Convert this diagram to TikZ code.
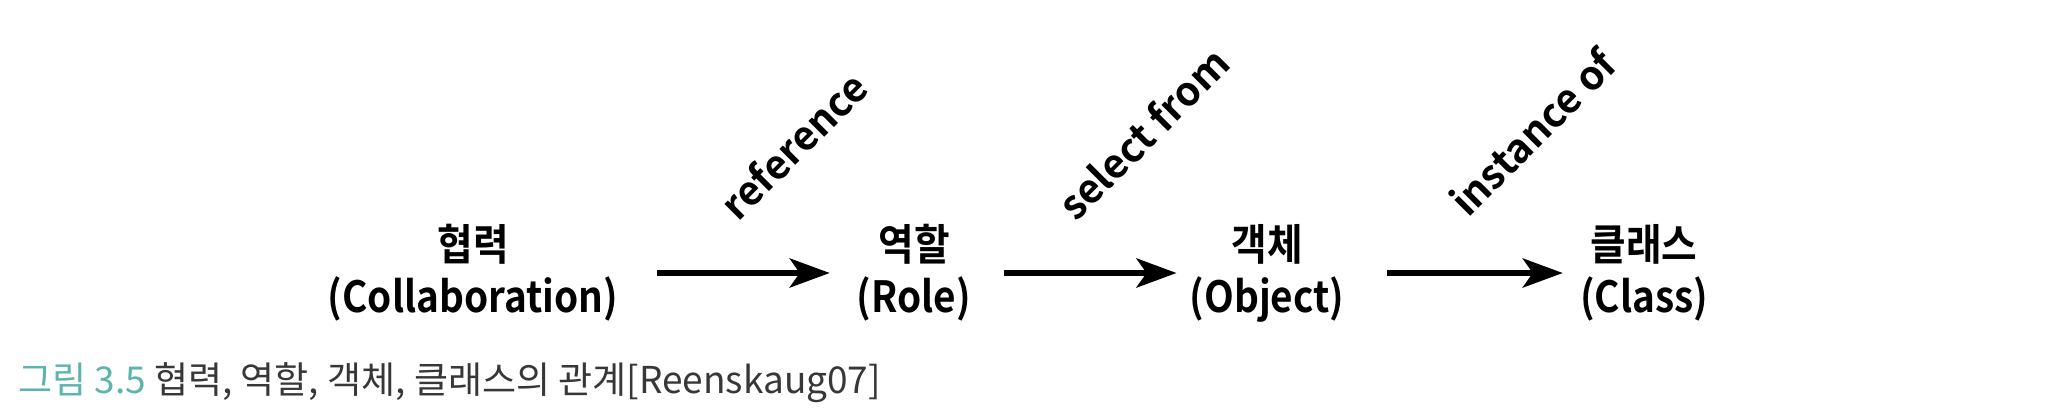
\documentclass[tikz,border=0pt]{standalone}
\usepackage{fontspec}
\setmainfont{Noto Sans CJK KR}[BoldFont=* Bold]
\newfontfamily\narrowfont{Noto Sans CJK KR Bold}[FakeStretch=0.9]
\usetikzlibrary{arrows.meta}

\definecolor{capteal}{RGB}{92,180,170}
\definecolor{capgray}{RGB}{55,55,55}

\tikzset{
  concept/.style={align=center,inner sep=0pt,font=\narrowfont\fontsize{43}{52}\selectfont},
  rel/.style={line width=6pt,-{Stealth[length=40pt,width=29pt,inset=10pt]}},
  rellabel/.style={anchor=base west,inner sep=0pt,rotate=45,font=\bfseries\fontsize{40}{48}\selectfont},
}

\begin{document}
\begin{tikzpicture}[x=1pt,y=-1pt]
\useasboundingbox (0,0) rectangle (2048,417);

\node[concept] at (473,273) (collab) {협력\\(Collaboration)};
\node[concept] at (914,273) (role) {역할\\(Role)};
\node[concept] at (1267,273) (object) {객체\\(Object)};
\node[concept] at (1644,273) (class) {클래스\\(Class)};

\draw[rel,shorten <=39pt,shorten >=27pt] (collab) -- node[xshift=-1pt,yshift=48pt,rellabel] {reference} (role);
\draw[rel,shorten <=33pt,shorten >=13pt] (role) -- node[xshift=-6pt,yshift=48pt,rellabel] {select from} (object);
\draw[rel,shorten <=43pt,shorten >=17pt] (object) -- node[xshift=4pt,yshift=52pt,rellabel] {instance of} (class);

\node[anchor=west,inner sep=0pt,font=\fontsize{37}{42}\selectfont,text=capgray] at (18,383) (caption) {\textcolor{capteal}{그림 3.5} 협력, 역할, 객체, 클래스의 관계[Reenskaug07]};

\end{tikzpicture}
\end{document}
